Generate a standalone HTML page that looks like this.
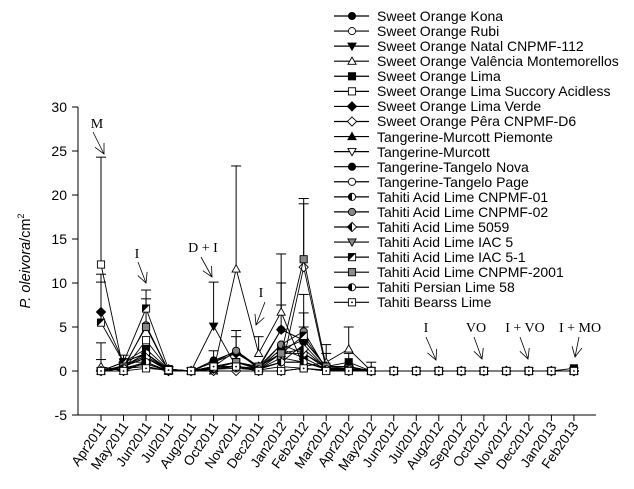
<!DOCTYPE html>
<html><head><meta charset="utf-8"><style>
body{margin:0;background:#fff}
svg{display:block;font-family:"Liberation Sans",Arial,sans-serif}
.lg text{font-size:14px}
.xl text{font-size:13.5px}
.an{font-family:"Liberation Serif",serif;font-size:14px}
</style></head><body>
<svg id="s" width="634" height="489" viewBox="0 0 634 489" xmlns="http://www.w3.org/2000/svg">
<g id="data"></g>
<g stroke="#000" stroke-width="1" fill="none">
<line x1="78" y1="107" x2="78" y2="415"/>
<line x1="78" y1="415" x2="596" y2="415"/>
<line x1="72" y1="107" x2="78" y2="107"/><line x1="72" y1="151" x2="78" y2="151"/>
<line x1="72" y1="195" x2="78" y2="195"/><line x1="72" y1="239" x2="78" y2="239"/>
<line x1="72" y1="283" x2="78" y2="283"/><line x1="72" y1="327" x2="78" y2="327"/>
<line x1="72" y1="371" x2="78" y2="371"/><line x1="72" y1="415" x2="78" y2="415"/>
</g>
<g id="xt" stroke="#000"></g>
<g font-size="14" text-anchor="end">
<text x="67" y="112">30</text><text x="67" y="156">25</text><text x="67" y="200">20</text>
<text x="67" y="244">15</text><text x="67" y="288">10</text><text x="67" y="332">5</text>
<text x="67" y="376">0</text><text x="67" y="420">-5</text>
</g>
<text transform="translate(30,261) rotate(-90)" font-size="14.5" text-anchor="middle"><tspan font-style="italic">P. oleivora</tspan>/cm<tspan dy="-6" font-size="9">2</tspan></text>
<g class="xl" text-anchor="end" id="xl">
<text transform="translate(107,426) rotate(-55)">Apr2011</text>
<text transform="translate(129,426) rotate(-55)">May2011</text>
<text transform="translate(152,426) rotate(-55)">Jun2011</text>
<text transform="translate(174,426) rotate(-55)">Jul2011</text>
<text transform="translate(197,426) rotate(-55)">Aug2011</text>
<text transform="translate(219,426) rotate(-55)">Oct2011</text>
<text transform="translate(242,426) rotate(-55)">Nov2011</text>
<text transform="translate(264,426) rotate(-55)">Dec2011</text>
<text transform="translate(287,426) rotate(-55)">Jan2012</text>
<text transform="translate(309,426) rotate(-55)">Feb2012</text>
<text transform="translate(332,426) rotate(-55)">Mar2012</text>
<text transform="translate(354,426) rotate(-55)">Apr2012</text>
<text transform="translate(377,426) rotate(-55)">May2012</text>
<text transform="translate(399,426) rotate(-55)">Jun2012</text>
<text transform="translate(422,426) rotate(-55)">Jul2012</text>
<text transform="translate(444,426) rotate(-55)">Aug2012</text>
<text transform="translate(467,426) rotate(-55)">Sep2012</text>
<text transform="translate(489,426) rotate(-55)">Oct2012</text>
<text transform="translate(512,426) rotate(-55)">Nov2012</text>
<text transform="translate(534,426) rotate(-55)">Dec2012</text>
<text transform="translate(557,426) rotate(-55)">Jan2013</text>
<text transform="translate(579,426) rotate(-55)">Feb2013</text>
</g>
<g class="an" text-anchor="middle">
<text x="97" y="128">M</text>
<text x="137" y="258">I</text>
<text x="203" y="252">D + I</text>
<text x="261" y="297">I</text>
<text x="426" y="332">I</text>
<text x="476" y="332">VO</text>
<text x="525" y="332">I + VO</text>
<text x="580" y="332">I + MO</text>
</g>
<g stroke="#000" stroke-width="0.8" fill="none" id="arr"></g>
<g class="lg" id="lg">
<text x="377" y="21">Sweet Orange Kona</text>
<text x="377" y="36">Sweet Orange Rubi</text>
<text x="377" y="51">Sweet Orange Natal CNPMF-112</text>
<text x="377" y="66">Sweet Orange Valência Montemorellos</text>
<text x="377" y="81">Sweet Orange Lima</text>
<text x="377" y="96">Sweet Orange Lima Succory Acidless</text>
<text x="377" y="111">Sweet Orange Lima Verde</text>
<text x="377" y="126">Sweet Orange Pêra CNPMF-D6</text>
<text x="377" y="142">Tangerine-Murcott Piemonte</text>
<text x="377" y="157">Tangerine-Murcott</text>
<text x="377" y="172">Tangerine-Tangelo Nova</text>
<text x="377" y="187">Tangerine-Tangelo Page</text>
<text x="377" y="202">Tahiti Acid Lime CNPMF-01</text>
<text x="377" y="217">Tahiti Acid Lime CNPMF-02</text>
<text x="377" y="232">Tahiti Acid Lime 5059</text>
<text x="377" y="247">Tahiti Acid Lime IAC 5</text>
<text x="377" y="262">Tahiti Acid Lime IAC 5-1</text>
<text x="377" y="277">Tahiti Acid Lime CNPMF-2001</text>
<text x="377" y="292">Tahiti Persian Lime 58</text>
<text x="377" y="307">Tahiti Bearss Lime</text>
</g>
</svg>
<script>
var NS="http://www.w3.org/2000/svg",s=document.getElementById('s');
function el(p,t,a){var e=document.createElementNS(NS,t);for(var k in a)e.setAttribute(k,a[k]);p.appendChild(e);return e;}
function X(i){return 101+i*22.52} function Y(v){return 371-v*8.8}
var xt=document.getElementById('xt');
for(var i=0;i<22;i++)el(xt,'line',{x1:X(i),y1:415,x2:X(i),y2:421});
var arr=document.getElementById('arr');
[[93,132,104,154],[138,262,146,283],[201,257,212,277],[265,302,256,325],[426,337,436,360],[474,337,482,359],[520,337,528,359],[579,337,575,357]].forEach(function(a){
 var x1=a[0],y1=a[1],x2=a[2],y2=a[3];
 el(arr,'line',{x1:x1,y1:y1,x2:x2,y2:y2});
 var dx=x2-x1,dy=y2-y1,L=Math.hypot(dx,dy),ux=dx/L,uy=dy/L;
 el(arr,'path',{d:'M'+(x2-ux*10-uy*5)+','+(y2-uy*10+ux*5)+'L'+x2+','+y2+'L'+(x2-ux*10+uy*5)+','+(y2-uy*10-ux*5)});
});
var types=['fc','oc','fdt','ot','fs','os','fd','od','ft','odt','fc','oc','hc','gc','hd','gdt','hs','gs','hc','osd'];
var data=[
[0,1,2,0.1,0,1,2.3,0.3,4.7,3.5,0.5,0.5,0],
[0,0.5,1.5,0.1,0,0.5,1,0.2,1.5,1,0.3,0.2,0],
[0,1,1,0,0,5.1,0.5,0.3,1,3,0.3,0.2,0],
[0.5,0,1,0,0,0,11.6,2,6.7,0.5,1,2.5,0],
[0,1,2.5,0.2,0,0.5,1,0.3,2.5,3.5,0.5,1,0],
[12.1,0.1,3.5,0.2,0,0.5,0.5,0,0,0.3,0,0,0],
[6.7,1,2,0.2,0,1,2,0.5,4.7,3.5,0.5,0.5,0],
[0,0,1,0,0,0,0,0,0,11.8,0.2,0,0],
[0,0.5,2,0.1,0,0.3,1,0.2,2,2,0.5,0.5,0],
[0,0.3,0.5,0,0,0.3,0.5,0.2,1,1,0.3,0.3,0],
[0,0.6,1.7,0.1,0,1.2,2.2,0.3,2.5,1.5,0.2,0.3,0],
[0,0.3,0.5,0,0,0.2,0.3,0.1,0.5,0.3,0.1,0.1,0],
[0,0.5,2,0,0,0.5,1,0.3,3,2,0.3,0.3,0],
[0,0.3,5.2,0,0,0.5,2.3,0.5,3,4.5,0.2,0.3,0],
[0,0.5,1.5,0,0,0.3,0.5,0.2,2,2.5,0.3,0.2,0],
[0,0.3,0.8,0,0,0.2,0.5,0.2,1,1,0.2,0.2,0],
[5.5,1,7.1,0.2,0,0.5,1,0.5,2,4,0.3,0.3,0],
[0,0.5,5,0,0,0.3,1,0.5,2,12.7,0.5,0.3,0],
[0,0.3,1,0,0,0.3,0.5,0.2,1,1,0.2,0.2,0],
[0,0,0.3,0.1,0,0.5,0.5,0,0,0.3,0,0,0]];
var g=document.getElementById('data');
[[0,24.3,12.1],[0,11,6.7],[0,10.1,5.5],[0,3.2,0.5],[0,1.3,0],[1,1.8,1],[2,9.2,7.1],[2,8.2,5.2],[3,0.5,0.2],[5,10.1,5.1],[5,2.3,1.2],[6,23.3,11.6],[6,4.6,2.3],[6,3.9,2],[7,3.9,2],[8,13.3,6.7],[8,10,4.7],[8,7.5,6.7],[9,19.6,12.7],[9,19,11.8],[9,8.7,4.5],[9,6.6,3.5],[9,5,4],[10,3,1],[10,2,1],[11,5,2.5],[11,2,1],[12,1,0.5]].forEach(function(e){
 var x=X(e[0]);el(g,'line',{x1:x,y1:Y(e[1]),x2:x,y2:Y(e[2]),stroke:'#000','stroke-width':1});
 el(g,'line',{x1:x-5,y1:Y(e[1]),x2:x+5,y2:Y(e[1]),stroke:'#000','stroke-width':1});});
function mk(p,t,x,y,r){r=r||3.6;var f=t[0]=='f'?'#000':t[0]=='g'?'#888':'#fff',k=t.slice(1),a={fill:f,stroke:'#000','stroke-width':0.9};
 if(k=='c'||t=='hc'){a.cx=x;a.cy=y;a.r=r;el(p,'circle',a);if(t=='hc')el(p,'path',{d:'M'+x+','+(y-r)+'A'+r+','+r+' 0 0 0 '+x+','+(y+r)+'Z',fill:'#000'});}
 else if(k=='s'||k=='sd'){a.x=x-r;a.y=y-r;a.width=2*r;a.height=2*r;el(p,'rect',a);if(t=='hs')el(p,'path',{d:'M'+(x-r)+','+(y+r)+'L'+(x+r)+','+(y-r)+'L'+(x-r)+','+(y-r)+'Z',fill:'#000'});if(k=='sd')el(p,'circle',{cx:x,cy:y,r:0.9,fill:'#000'});}
 else if(k=='d'){a.d='M'+x+','+(y-r-1)+'L'+(x+r+1)+','+y+'L'+x+','+(y+r+1)+'L'+(x-r-1)+','+y+'Z';el(p,'path',a);if(t=='hd')el(p,'path',{d:'M'+x+','+(y-r-1)+'L'+(x-r-1)+','+y+'L'+x+','+(y+r+1)+'Z',fill:'#000'});}
 else if(k=='t'){a.d='M'+x+','+(y-r-0.5)+'L'+(x+r+0.5)+','+(y+r-0.5)+'L'+(x-r-0.5)+','+(y+r-0.5)+'Z';el(p,'path',a);}
 else if(k=='dt'){a.d='M'+x+','+(y+r+0.5)+'L'+(x+r+0.5)+','+(y-r+0.5)+'L'+(x-r-0.5)+','+(y-r+0.5)+'Z';el(p,'path',a);}
}
data.forEach(function(d,si){var pts=[];for(var i=0;i<22;i++){var v=i<d.length?d[i]:0;if(si==4&&i==21)v=0.3;pts.push([X(i),Y(v)]);}
 el(g,'polyline',{points:pts.map(function(p){return p.join(',')}).join(' '),fill:'none',stroke:'#000','stroke-width':0.9});
 pts.forEach(function(p){mk(g,types[si],p[0],p[1]);});});
var lg=document.getElementById('lg');
for(var j=0;j<20;j++){var y=16+j*15.07;el(lg,'line',{x1:334,y1:y,x2:369,y2:y,stroke:'#000','stroke-width':1.2});mk(lg,types[j],352,y,3.6);}
</script>
</body></html>
